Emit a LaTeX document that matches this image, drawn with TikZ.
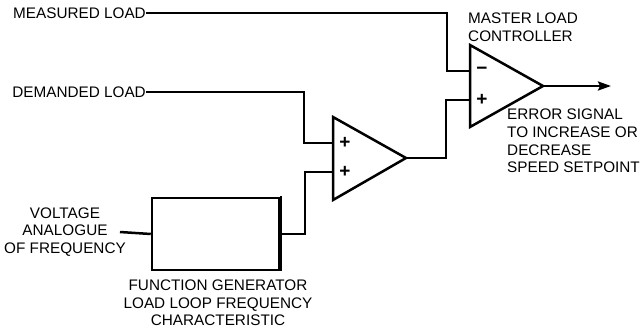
\documentclass[tikz,border=0pt]{standalone}
\usepackage{fontspec}
\setmainfont{Liberation Sans}
\usetikzlibrary{arrows.meta}
\begin{document}
\begin{tikzpicture}[x=1pt,y=-1pt,
  wire/.style={line width=2.5pt},
  amp/.style={line width=2.5pt, line join=miter},
  lbl/.style={font=\fontsize{15.3}{17.6}\selectfont, inner sep=0pt},
  sign/.style={font=\fontsize{19}{19}\selectfont\bfseries, inner sep=0pt}]
\useasboundingbox (0,0) rectangle (644,329);
% labels
\node[lbl, anchor=east] (ml) at (146,13) {MEASURED LOAD};
\node[lbl, anchor=east] (dl) at (146,92) {DEMANDED LOAD};
\node[lbl, align=center] (va) at (65,232) {VOLTAGE\\ANALOGUE\\OF FREQUENCY};
\node[lbl, align=center] (fg) at (218,303) {FUNCTION GENERATOR\\LOAD LOOP FREQUENCY\\CHARACTERISTIC};
\node[lbl, align=left, anchor=west] (mc) at (468,27) {MASTER LOAD\\CONTROLLER};
\node[lbl, align=left, anchor=west] (es) at (507,141) {ERROR SIGNAL\\TO INCREASE OR\\DECREASE\\SPEED SETPOINT};
% master amplifier
\coordinate (mt) at (470,45);
\coordinate (mb) at (470,127);
\coordinate (mo) at (543,86);
\coordinate (mm) at (470,71);
\coordinate (mp) at (470,100);
\draw[amp] (mt) -- (mo) -- (mb) -- cycle;
\node[sign] (mminus) at (482,71) {\textminus};
\node[sign] (mplus) at (482,100) {+};
% summing amplifier
\coordinate (st) at (333,117);
\coordinate (sb) at (333,200);
\coordinate (so) at (406,158);
\coordinate (s1) at (333,143);
\coordinate (s2) at (333,172);
\draw[amp] (st) -- (so) -- (sb) -- cycle;
\node[sign] (splus1) at (345,143) {+};
\node[sign] (splus2) at (345,172) {+};
% function generator box
\node[draw, line width=2.5pt, minimum width=127pt, minimum height=72pt, inner sep=0pt] (box) at (215.5,234) {};
\draw[line width=2pt] ([xshift=1pt,yshift=1pt]box.north east) -- ([xshift=1pt,yshift=1pt]box.south east) -- ([xshift=1pt,yshift=1pt]box.south west);
% wires
\draw[wire] (ml.east) -| (447,71) -- (mm);
\draw[wire] (dl.east) -| (304,143) -- (s1);
\draw[wire] ([xshift=-6pt]va.east) -- (box.west);
\draw[wire] (box.east) -| (305,172) -- (s2);
\draw[wire] (so) -| (446,100) -- (mp);
\coordinate (arr) at (611,86);
\draw[wire, -{Stealth[length=13pt,width=9pt,inset=2pt]}] (mo) -- (arr);
\end{tikzpicture}
\end{document}
